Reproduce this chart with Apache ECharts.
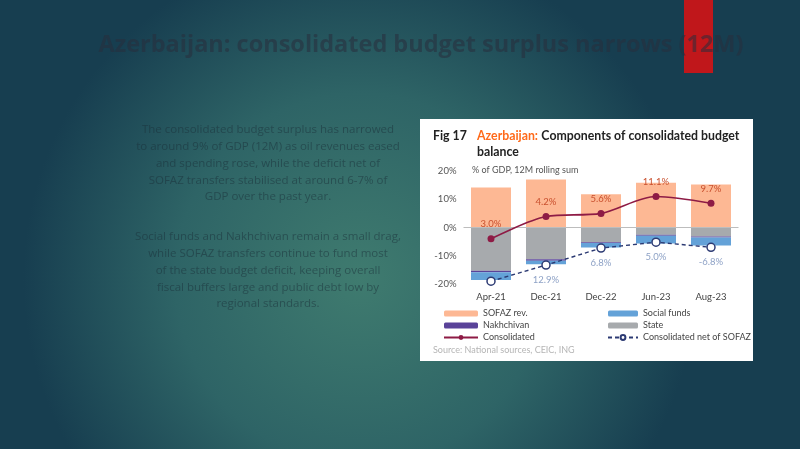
<!DOCTYPE html>
<html><head><meta charset="utf-8">
<script src="https://cdn.jsdelivr.net/npm/echarts@6/dist/echarts.min.js"></script>
<style>html,body{margin:0;padding:0;width:800px;height:449px;overflow:hidden}#c{width:800px;height:449px}</style>
</head><body><div id="c"></div>
<script>
const categories = ['Apr-21','Dec-21','Dec-22','Jun-23','Aug-23'];
const sofazRev = [14.2, 17.0, 11.8, 15.8, 15.2];
const stateBal = [-15.3, -11.2, -5.2, -2.6, -3.2];
const nakhchivan = [-0.5, -0.6, -0.3, -0.3, -0.3];
const socialFunds = [-2.8, -1.2, -1.6, -2.8, -2.9];
const consolidated = [-4.0, 3.9, 5.0, 11.0, 8.6];
const consolidatedNet = [-19.0, -13.3, -7.3, -5.2, -7.0];
const consolidatedLabels = ['3.0%','4.2%','5.6%','11.1%','9.7%'];
const netLabels = ['','12.9%','6.8%','5.0%','-6.8%'];
const yTicks = [-20,-10,0,10,20];

const titleText = 'Azerbaijan: consolidated budget surplus narrows (12M)';
const para1 = ['The consolidated budget surplus has narrowed','to around 9% of GDP (12M) as oil revenues eased','and spending rose, while the deficit net of','SOFAZ transfers stabilised at around 6-7% of','GDP over the past year.'];
const para2 = ['Social funds and Nakhchivan remain a small drag,','while SOFAZ transfers continue to fund most','of the state budget deficit, keeping overall','fiscal buffers large and public debt low by','regional standards.'];

const FONT = '"Open Sans", Lato, sans-serif';
const CFONT = 'Lato, "Open Sans", sans-serif';
const chart = echarts.init(document.getElementById('c'), null, {renderer:'canvas'});

const graphics = [
  {type:'rect', z:-10, shape:{x:0,y:0,width:800,height:449}, style:{fill:{type:'radial',x:0.45,y:0.62,r:0.75,colorStops:[{offset:0,color:'#3f7b6f'},{offset:0.55,color:'#2e6466'},{offset:1,color:'#173e50'}]}}},
  {type:'rect', z:-9, shape:{x:684,y:0,width:29,height:73}, style:{fill:'#c0171b'}},
  {type:'text', z:-8, x:421, y:45, style:{text:titleText, font:'bold 23.5px '+FONT, fill:'rgba(40,45,60,0.55)', align:'center', verticalAlign:'middle'}},
  {type:'rect', z:-7, shape:{x:420,y:119,width:333,height:242}, style:{fill:'#ffffff'}},
  {type:'text', z:-6, x:433, y:136, style:{text:'Fig 17', font:'bold 12.3px '+CFONT, fill:'#222', verticalAlign:'middle'}},
  {type:'text', z:-6, x:477, y:136, style:{rich:{o:{font:'bold 12.3px '+CFONT, fill:'#ff6a1a'}, b:{font:'bold 12.3px '+CFONT, fill:'#222'}}, text:'{o|Azerbaijan:} {b|Components of consolidated budget}', verticalAlign:'middle'}},
  {type:'text', z:-6, x:477, y:152, style:{text:'balance', font:'bold 12.3px '+CFONT, fill:'#222', verticalAlign:'middle'}},
  {type:'text', z:-6, x:472, y:170, style:{text:'% of GDP, 12M rolling sum', font:'9px '+CFONT, fill:'#555', verticalAlign:'middle'}},
  {type:'text', z:-6, x:433, y:350, style:{text:'Source: National sources, CEIC, ING', font:'9px '+CFONT, fill:'#b5b5b5', verticalAlign:'middle'}}
];
para1.forEach((t,i)=>graphics.push({type:'text', z:-8, x:268, y:130+i*16.8, style:{text:t, font:'11.5px '+FONT, fill:'rgba(25,45,55,0.5)', align:'center', verticalAlign:'middle'}}));
para2.forEach((t,i)=>graphics.push({type:'text', z:-8, x:268, y:237+i*16.8, style:{text:t, font:'11.5px '+FONT, fill:'rgba(25,45,55,0.5)', align:'center', verticalAlign:'middle'}}));

const barW = 40;
const legText = {fontSize:9, color:'#444', lineHeight:11, fontFamily:CFONT};
const option = {
  animation:false,
  textStyle:{fontFamily:CFONT},
  graphic:graphics,
  grid:{left:463.5, width:275, top:171, height:113, containLabel:false},
  xAxis:{type:'category', data:categories, axisLine:{show:false}, axisTick:{show:false},
    axisLabel:{color:'#444', fontSize:9.5, margin:8}},
  yAxis:{type:'value', min:-20, max:20, interval:10, splitLine:{show:false}, axisLine:{show:false}, axisTick:{show:false},
    axisLabel:{color:'#555', fontSize:9.5, margin:7, formatter:v=>v+'%'}},
  legend:[
    {left:438, top:303, orient:'vertical', itemWidth:34, itemHeight:6, itemGap:1, textStyle:legText,
      data:[{name:'SOFAZ rev.',icon:'roundRect'},{name:'Nakhchivan',icon:'roundRect'},{name:'Consolidated'}]},
    {left:602, top:303, orient:'vertical', itemWidth:30, itemHeight:6, itemGap:1, textStyle:legText,
      data:[{name:'Social funds',icon:'roundRect'},{name:'State',icon:'roundRect'},{name:'Consolidated net of SOFAZ'}]}
  ],
  series:[
    {name:'SOFAZ rev.', type:'bar', stack:'a', barWidth:barW, data:sofazRev, itemStyle:{color:'#fdb894'},
      markLine:{silent:true, symbol:'none', label:{show:false}, lineStyle:{color:'#bdbdbd', type:'solid', width:1}, data:[{yAxis:0}]}},
    {name:'State', type:'bar', stack:'a', barWidth:barW, data:stateBal, itemStyle:{color:'#a7aaad'}},
    {name:'Nakhchivan', type:'bar', stack:'a', barWidth:barW, data:nakhchivan, itemStyle:{color:'#5a4399'}},
    {name:'Social funds', type:'bar', stack:'a', barWidth:barW, data:socialFunds, itemStyle:{color:'#64a2d8'}},
    {name:'Consolidated', type:'line', data:consolidated, smooth:0.3, z:5,
      lineStyle:{color:'#8e1b45', width:1.6}, itemStyle:{color:'#8e1b45'}, symbol:'circle', symbolSize:7,
      label:{show:true, position:'top', distance:6, fontSize:9.5, color:'#c9502e', formatter:p=>consolidatedLabels[p.dataIndex]}},
    {name:'Consolidated net of SOFAZ', type:'line', data:consolidatedNet, z:6,
      lineStyle:{color:'#2c3a73', width:1.4, type:[4,3]}, itemStyle:{color:'#ffffff', borderColor:'#2c3a73', borderWidth:1.5}, symbol:'circle', symbolSize:8, showAllSymbol:true,
      label:{show:true, position:'bottom', distance:5, fontSize:9.5, color:'#8ea2c6', formatter:p=>netLabels[p.dataIndex]}}
  ]
};
chart.setOption(option);
</script></body></html>
